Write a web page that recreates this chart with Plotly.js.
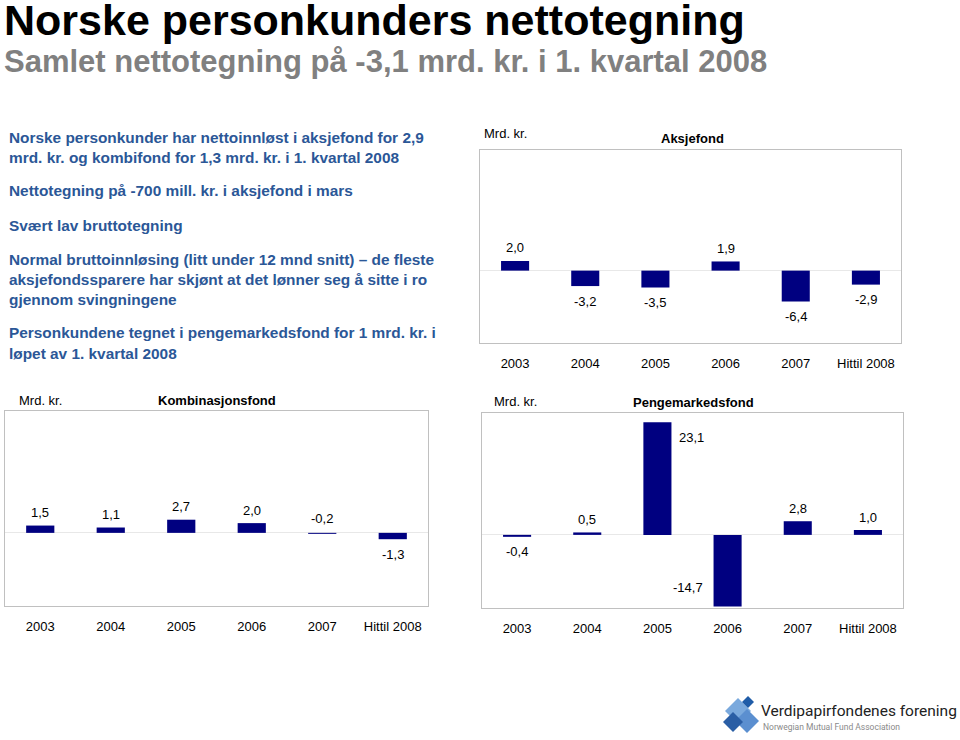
<!DOCTYPE html>
<html>
<head>
<meta charset="utf-8">
<script src="https://cdn.plot.ly/plotly-3.0.1.min.js"></script>
<style>
  html, body { margin: 0; padding: 0; background: #ffffff; }
  #chart { width: 960px; height: 740px; }
</style>
</head>
<body>
<div id="chart"></div>
<script>
// ---------- data ----------
const years = ["2003", "2004", "2005", "2006", "2007", "Hittil 2008"];
const aksjefond = [2.0, -3.2, -3.5, 1.9, -6.4, -2.9];
const kombinasjonsfond = [1.5, 1.1, 2.7, 2.0, -0.2, -1.3];
const pengemarkedsfond = [-0.4, 0.5, 23.1, -14.7, 2.8, 1.0];

const chartTitles = ["Aksjefond", "Kombinasjonsfond", "Pengemarkedsfond"];
const unitLabel = "Mrd. kr.";
const mainTitle = "Norske personkunders nettotegning";
const subTitle = "Samlet nettotegning på -3,1 mrd. kr. i 1. kvartal 2008";
const bullets = [
  ["Norske personkunder har nettoinnløst i aksjefond for 2,9", "mrd. kr. og kombifond for 1,3 mrd. kr. i 1. kvartal 2008"],
  ["Nettotegning på -700 mill. kr. i aksjefond i mars"],
  ["Svært lav bruttotegning"],
  ["Normal bruttoinnløsing (litt under 12 mnd snitt) – de fleste", "aksjefondssparere har skjønt at det lønner seg å sitte i ro", "gjennom svingningene"],
  ["Personkundene tegnet i pengemarkedsfond for 1 mrd. kr. i", "løpet av 1. kvartal 2008"]
];
const logoName = "Verdipapirfondenes forening";
const logoSub = "Norwegian Mutual Fund Association";

// ---------- layout helpers ----------
const W = 960, H = 740;
const px = x => x / W;
const py = y => 1 - y / H;
const FONT = '"Liberation Sans", Arial, Helvetica, sans-serif';
const NAVY = "#000080";
const FRAME = "#c0c0c0";

// chart boxes in pixels [left, top, right, bottom]
const boxes = [
  [480, 150, 901, 343],
  [5, 411, 428, 606],
  [482, 413, 903, 608]
];
const series = [aksjefond, kombinasjonsfond, pengemarkedsfond];
// label placement overrides (pixel shifts) — [chart-index] = [xshift, yshift]
const labelOverrides = {
  "1-4": [0, 15],
  "2-2": [34, -15],
  "2-3": [-40, 19]
};
// header positions per chart
const headers = [
  { ux: 482, uy: 133, tx: 692, ty: 138 },
  { ux: 17, uy: 400, tx: 217, ty: 400 },
  { ux: 492, uy: 401, tx: 693, ty: 402 }
];

const fmt = v => v.toFixed(1).replace(".", ",");

const traces = [];
const layout = {
  width: W, height: H,
  margin: { l: 0, r: 0, t: 0, b: 0 },
  paper_bgcolor: "#ffffff",
  plot_bgcolor: "#ffffff",
  showlegend: false,
  bargap: 0.6,
  font: { family: FONT, color: "#000000", size: 13 },
  annotations: [],
  shapes: []
};

series.forEach((vals, i) => {
  const n = i === 0 ? "" : String(i + 1);
  const b = boxes[i];
  traces.push({
    type: "bar",
    x: years,
    y: vals,
    xaxis: "x" + n,
    yaxis: "y" + n,
    marker: { color: NAVY, line: { width: 0 } },
    hoverinfo: "none"
  });
  layout["xaxis" + n] = {
    domain: [px(b[0]), px(b[2])],
    anchor: "y" + n,
    type: "category",
    categoryorder: "array", categoryarray: years,
    range: [-0.5, years.length - 0.5],
    autorange: false,
    showline: true, mirror: true, linecolor: FRAME, linewidth: 1,
    ticks: "outside", ticklen: 8, tickcolor: "rgba(0,0,0,0)",
    tickfont: { family: FONT, size: 13, color: "#000000" },
    showgrid: false, zeroline: false, fixedrange: true
  };
  layout["yaxis" + n] = {
    domain: [py(b[3]), py(b[1])],
    anchor: "x" + n,
    range: [-15, 25],
    autorange: false,
    showline: true, mirror: true, linecolor: FRAME, linewidth: 1,
    showticklabels: false, ticks: "",
    showgrid: false,
    zeroline: true, zerolinecolor: "#e8e8e8", zerolinewidth: 1,
    fixedrange: true
  };
  // value labels
  vals.forEach((v, j) => {
    const ov = labelOverrides[i + "-" + j];
    const xs = ov ? ov[0] : 0;
    const ys = ov ? ov[1] : (v >= 0 ? 13 : -15);
    layout.annotations.push({
      xref: "x" + n, yref: "y" + n,
      x: j, y: v,
      text: fmt(v),
      showarrow: false,
      xshift: xs, yshift: ys,
      xanchor: "center", yanchor: "middle",
      font: { family: FONT, size: 13, color: "#000000" }
    });
  });
  // headers
  const h = headers[i];
  layout.annotations.push({
    xref: "paper", yref: "paper", x: px(h.ux), y: py(h.uy),
    xanchor: "left", yanchor: "middle", showarrow: false,
    text: unitLabel, font: { family: FONT, size: 13, color: "#000000" }
  });
  layout.annotations.push({
    xref: "paper", yref: "paper", x: px(h.tx), y: py(h.ty),
    xanchor: "center", yanchor: "middle", showarrow: false,
    text: "<b>" + chartTitles[i] + "</b>", font: { family: FONT, size: 13, color: "#000000" }
  });
});

// main titles
layout.annotations.push({
  xref: "paper", yref: "paper", x: px(2), y: py(20),
  xanchor: "left", yanchor: "middle", showarrow: false,
  text: "<b>" + mainTitle + "</b>", font: { family: FONT, size: 43, color: "#000000" }
});
layout.annotations.push({
  xref: "paper", yref: "paper", x: px(2), y: py(61),
  xanchor: "left", yanchor: "middle", showarrow: false,
  text: "<b>" + subTitle + "</b>", font: { family: FONT, size: 31, color: "#808080" }
});

// bullet texts
const lineY = [[137, 157.5], [191], [225], [259, 279, 299], [333, 353.5]];
bullets.forEach((grp, g) => {
  grp.forEach((line, k) => {
    layout.annotations.push({
      xref: "paper", yref: "paper", x: px(7), y: py(lineY[g][k]),
      xanchor: "left", yanchor: "middle", showarrow: false,
      text: "<b>" + line + "</b>", font: { family: FONT, size: 15.4, color: "#2b5797" }
    });
  });
});

// logo (decorative diamonds)
function diamond(cx, cy, r, color) {
  return {
    type: "path", xref: "paper", yref: "paper",
    path: `M ${px(cx - r)} ${py(cy)} L ${px(cx)} ${py(cy - r)} L ${px(cx + r)} ${py(cy)} L ${px(cx)} ${py(cy + r)} Z`,
    fillcolor: color, line: { width: 0 }
  };
}
layout.shapes.push(diamond(738, 711, 13, "#7aa9dd"));
layout.shapes.push(diamond(748, 702, 6, "#1f5ca8"));
layout.shapes.push(diamond(747, 721, 12, "#5b8fd0"));
layout.shapes.push(diamond(733, 722, 10, "#2a5ea5"));
layout.annotations.push({
  xref: "paper", yref: "paper", x: px(759), y: py(711),
  xanchor: "left", yanchor: "middle", showarrow: false,
  text: logoName, font: { family: "Roboto, 'Open Sans', sans-serif", size: 15.5, color: "#222222" }
});
layout.annotations.push({
  xref: "paper", yref: "paper", x: px(761), y: py(727),
  xanchor: "left", yanchor: "middle", showarrow: false,
  text: logoSub, font: { family: "Roboto, 'Open Sans', sans-serif", size: 8.5, color: "#8a8a8a" }
});

Plotly.newPlot("chart", traces, layout, { staticPlot: true, displayModeBar: false });
</script>
</body>
</html>
